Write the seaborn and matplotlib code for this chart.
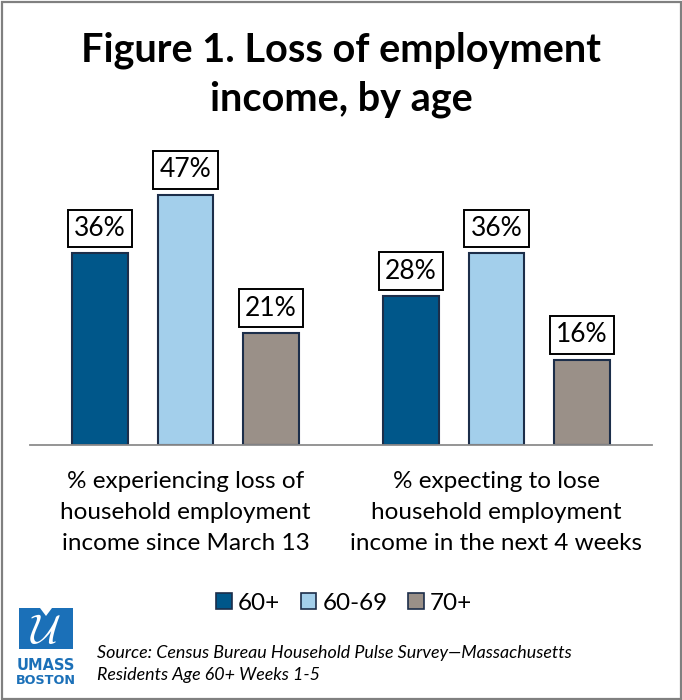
import matplotlib
matplotlib.use("Agg")
import matplotlib.pyplot as plt
from matplotlib.patches import Patch, Rectangle, Polygon
import seaborn as sns
import pandas as pd

# ---- data ----
categories = [
    "% experiencing loss of\nhousehold employment\nincome since March 13",
    "% expecting to lose\nhousehold employment\nincome in the next 4 weeks",
]
age_groups = ["60+", "60-69", "70+"]
loss_since_march = [36, 47, 21]
expect_loss_next_4wk = [28, 36, 16]
colors = ["#00578A", "#A3CFEB", "#9A9088"]

rows = []
for cat, vals in zip(categories, [loss_since_march, expect_loss_next_4wk]):
    for grp, v in zip(age_groups, vals):
        rows.append({"category": cat, "age": grp, "pct": v})
df = pd.DataFrame(rows)

sns.set_theme(style="white")
plt.rcParams["font.family"] = ["Lato", "DejaVu Sans"]
plt.rcParams["mathtext.fontset"] = "cm"
plt.rcParams["text.color"] = "black"
plt.rcParams["xtick.color"] = "black"

W, H = 682, 700
fig = plt.figure(figsize=(W / 100, H / 100), dpi=100)


def fx(px):
    return px / W


def fy(py):
    return 1 - py / H


ax = fig.add_axes([fx(30), fy(445), fx(652) - fx(30), (445 - 179) / H])
sns.barplot(
    data=df, x="category", y="pct", hue="age", hue_order=age_groups,
    palette=colors, width=0.825, gap=0.35, edgecolor="#1C2E4A",
    linewidth=1.5, legend=False, ax=ax, saturation=1,
)
ax.set_ylim(0, 50)
ax.set_xlim(-0.5, 1.5)
ax.set_xlabel("")
ax.set_ylabel("")
ax.set_yticks([])
for s in ["left", "right", "top"]:
    ax.spines[s].set_visible(False)
ax.spines["bottom"].set_color("#8C8C8C")
ax.spines["bottom"].set_linewidth(1.3)

ax.set_xticks([0, 1])
ax.set_xticklabels(categories, fontsize=17.5, linespacing=1.58, color="black")
ax.tick_params(axis="x", which="major", length=0, pad=19, labelcolor="black")
ax.set_xticks([-0.5, 0.5, 1.5], minor=True)
ax.tick_params(axis="x", which="minor", length=7.5, width=1.3,
               color="#8C8C8C", direction="out")

for cont in ax.containers:
    ax.bar_label(
        cont, labels=[f"{int(v)}%" for v in cont.datavalues],
        padding=9, fontsize=19, color="black",
        bbox=dict(boxstyle="square,pad=0.24", fc="white", ec="black", lw=1.4),
    )

# title
fig.text(0.5, fy(75), "Figure 1. Loss of employment\nincome, by age",
         ha="center", va="center", fontsize=28.5, fontweight="bold",
         linespacing=1.4, color="black")

# legend
handles = [Patch(facecolor=c, edgecolor="#1C2E4A", lw=1.2) for c in colors]
fig.legend(handles, age_groups, loc="center", bbox_to_anchor=(fx(344), fy(603)),
           ncol=3, frameon=False, fontsize=17.5, handlelength=0.65,
           handleheight=0.65, handletextpad=0.25, columnspacing=0.85,
           labelcolor="black")

# source note
fig.text(fx(97), fy(664),
         "Source: Census Bureau Household Pulse Survey\u2014Massachusetts\nResidents Age 60+ Weeks 1-5",
         ha="left", va="center", fontsize=12.9, style="italic",
         linespacing=1.45, color="black")

# logo
blue = "#1B70B8"
logo = Polygon(
    [(fx(19), fy(649)), (fx(19), fy(608)), (fx(40), fy(608)), (fx(46), fy(616)),
     (fx(52), fy(608)), (fx(73), fy(608)), (fx(73), fy(649))],
    closed=True, transform=fig.transFigure, fc=blue, ec="none")
fig.add_artist(logo)
fig.text(fx(46), fy(631), r"$\mathcal{U}$", color="white", fontsize=30,
         ha="center", va="center")
fig.text(fx(46), fy(666), "UMASS", color=blue, fontsize=10.5,
         fontweight="heavy", ha="center", va="center", family="DejaVu Sans")
fig.text(fx(46), fy(680), "BOSTON", color=blue, fontsize=9.2,
         fontweight="heavy", ha="center", va="center", family="DejaVu Sans")

# outer frame
fig.add_artist(Rectangle((fx(2), fy(699)), fx(679), (698 - 1) / H,
                         transform=fig.transFigure, fill=False,
                         ec="#808080", lw=1.6))

fig.savefig("out.png", dpi=100)
